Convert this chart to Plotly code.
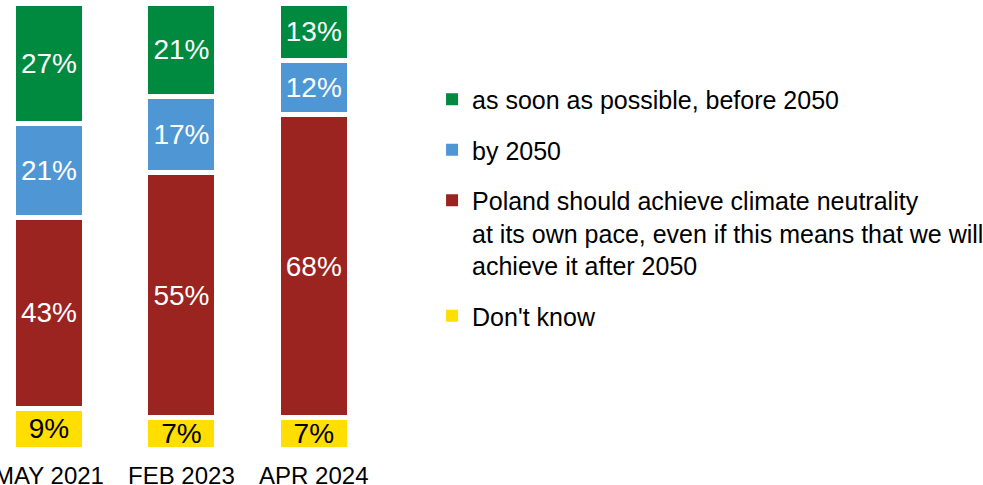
import plotly.graph_objects as go

periods = ["MAY 2021", "FEB 2023", "APR 2024"]
dont_know = [9, 7, 7]
own_pace = [43, 55, 68]
by_2050 = [21, 17, 12]
asap = [27, 21, 13]

labels = [
    "Don't know",
    "Poland should achieve climate neutrality<br>at its own pace, even if this means that we will<br>achieve it after 2050",
    "by 2050",
    "as soon as possible, before 2050",
]
colors = ["#FFDE00", "#9B2320", "#4F97D4", "#008A40"]
text_colors = ["black", "white", "white", "white"]
legend_rank = [4, 3, 2, 1]
series = [dont_know, own_pace, by_2050, asap]

fig = go.Figure()
for vals, name, col, tcol in zip(series, labels, colors, text_colors):
    fig.add_trace(go.Bar(
        x=periods, y=vals, name=name, showlegend=False,
        marker=dict(color=col, line=dict(color="white", width=5)),
        texttemplate="%{y}%", textposition="inside", insidetextanchor="middle",
        constraintext="none",
        textfont=dict(size=28, color=tcol, family="Arial, Liberation Sans"),
        hoverinfo="skip",
    ))

# legend-only entries so the swatches are plain squares
for i, (name, col) in enumerate(zip(labels, colors)):
    fig.add_trace(go.Bar(
        x=[None], y=[None], name=name, legendgroup="g%d" % i,
        legendrank=legend_rank[i],
        marker=dict(color=col, line=dict(width=0)),
    ))

fig.update_layout(
    barmode="stack",
    bargap=0.464,
    width=983, height=485,
    margin=dict(l=0, r=603, t=2.5, b=35.5, autoexpand=False),
    plot_bgcolor="white", paper_bgcolor="white",
    font=dict(family="Arial, Liberation Sans", color="black"),
    showlegend=True,
    legend=dict(
        x=1.137, xanchor="left", y=0.835, yanchor="top",
        traceorder="grouped", tracegroupgap=15, valign="top",
        font=dict(size=25, color="black"),
        bgcolor="rgba(0,0,0,0)",
    ),
    xaxis=dict(
        range=[-0.37, 2.5], showgrid=False, zeroline=False, showline=False,
        ticks="", tickfont=dict(size=24, color="black"), automargin=False,
        ticklabelstandoff=10,
    ),
    yaxis=dict(range=[0, 100], visible=False, automargin=False),
)

# drop the default page margin so the figure sits at the window's corner
fig.write_html("out.html", config={"displayModeBar": False},
               post_script="document.body.style.margin = '0';")
